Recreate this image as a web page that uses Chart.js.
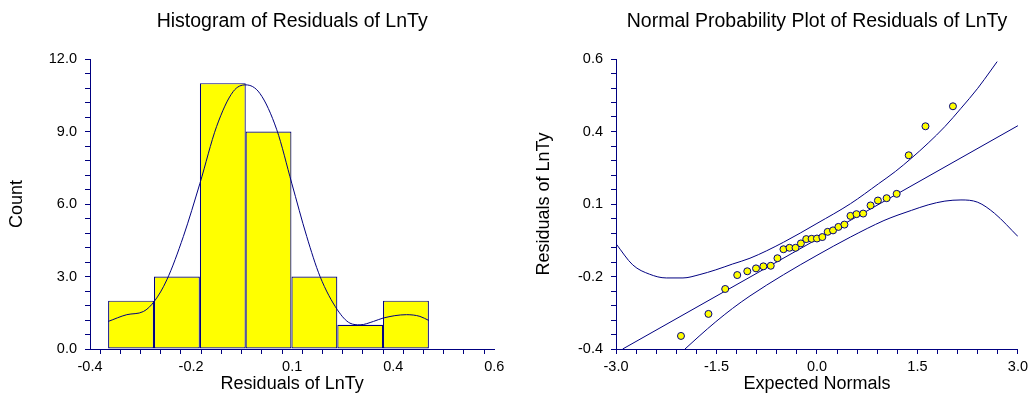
<!DOCTYPE html>
<html>
<head>
<meta charset="utf-8">
<script src="https://cdn.jsdelivr.net/npm/chart.js@4/dist/chart.umd.min.js"></script>
<style>
  html, body { margin: 0; padding: 0; background: #fff; }
  #wrap { position: relative; width: 1032px; height: 397px; }
  #wrap canvas { position: absolute; top: 0; }
  #histChart { left: 0; }
  #probChart { left: 516px; }
</style>
</head>
<body>
<div id="wrap">
  <canvas id="histChart" width="516" height="397"></canvas>
  <canvas id="probChart" width="516" height="397"></canvas>
</div>
<script>
// Histogram of residuals
const binCenters = [-0.2985, -0.185, -0.0715, 0.0415, 0.155, 0.2685, 0.3815];
const binCounts = [2, 3, 11, 9, 3, 1, 2];

// density curve drawn over the histogram
const densX = [-0.355, -0.309, -0.268, -0.241, -0.210, -0.169, -0.128, -0.087, -0.046, -0.015, 0.020, 0.062, 0.099, 0.136, 0.169, 0.212, 0.243, 0.268, 0.301, 0.325, 0.383, 0.416, 0.438];
const densY = [1.14, 1.42, 1.55, 1.97, 2.86, 4.66, 6.86, 9.20, 10.65, 10.93, 10.58, 9.07, 6.86, 4.66, 3.0, 1.62, 1.07, 1.0, 1.14, 1.28, 1.42, 1.35, 1.18];

// Normal probability plot
const normX = [-2.03, -1.62, -1.37, -1.19, -1.04, -0.91, -0.80, -0.69, -0.59, -0.50, -0.41, -0.32, -0.24, -0.16, -0.08, 0.0, 0.08, 0.16, 0.24, 0.32, 0.41, 0.50, 0.59, 0.69, 0.80, 0.91, 1.04, 1.19, 1.37, 1.62, 2.03];
const residY = [-0.355, -0.279, -0.193, -0.145, -0.132, -0.122, -0.115, -0.113, -0.087, -0.056, -0.051, -0.051, -0.036, -0.021, -0.020, -0.019, -0.014, 0.004, 0.009, 0.021, 0.029, 0.059, 0.065, 0.067, 0.095, 0.112, 0.120, 0.135, 0.268, 0.368, 0.437];

const fitX = [-2.90, 3.0];
const fitY = [-0.40, 0.37];

const upperX = [-3.0, -2.75, -2.5, -2.25, -2.0, -1.76, -1.51, -1.26, -1.0, -0.5, 0.0, 0.5, 0.92, 1.17, 1.41, 1.66, 1.91, 2.15, 2.40, 2.60, 2.69];
const upperY = [-0.037, -0.110, -0.142, -0.155, -0.155, -0.144, -0.127, -0.107, -0.087, -0.032, 0.033, 0.101, 0.170, 0.212, 0.258, 0.310, 0.367, 0.430, 0.499, 0.562, 0.591];

const lowerX = [-1.97, -1.76, -1.51, -1.26, -1.0, -0.5, 0.0, 0.5, 1.0, 1.21, 1.41, 1.66, 1.91, 2.15, 2.40, 2.65, 3.0];
const lowerY = [-0.400, -0.356, -0.306, -0.260, -0.217, -0.144, -0.077, -0.014, 0.043, 0.062, 0.078, 0.097, 0.110, 0.114, 0.106, 0.068, -0.012];

// tick labels (major ticks, 4 minor ticks between)
const histXLabels = ['-0.4', '-0.2', '0.1', '0.4', '0.6'];
const histYLabels = ['0.0', '3.0', '6.0', '9.0', '12.0'];
const probXLabels = ['-3.0', '-1.5', '0.0', '1.5', '3.0'];
const probYLabels = ['-0.4', '-0.2', '0.1', '0.4', '0.6'];

const NAVY = '#000080';
const FONT = '"Liberation Sans", Arial, sans-serif';

const pts = (xs, ys) => xs.map((x, i) => ({ x: x, y: ys[i] }));

// title drawn centred over the plot area
const plotTitle = {
    id: 'plotTitle',
    afterDraw(chart, args, opts) {
        const { ctx, chartArea } = chart;
        ctx.save();
        ctx.font = '19.5px ' + FONT;
        ctx.fillStyle = '#000';
        ctx.textAlign = 'center';
        ctx.textBaseline = 'middle';
        ctx.fillText(opts.text, (chartArea.left + chartArea.right) / 2, 22);
        ctx.restore();
    }
};

function axis(min, max, labels, titleText, isX, size) {
    const steps = (labels.length - 1) * 5;
    return {
        type: 'linear',
        min: min,
        max: max,
        offset: false,
        afterBuildTicks: (scale) => {
            const t = [];
            for (let i = 0; i <= steps; i++) t.push({ value: min + (max - min) * i / steps });
            scale.ticks = t;
        },
        afterFit: (scale) => {
            if (isX) scale.height = size; else scale.width = size;
        },
        grid: { drawOnChartArea: false, drawTicks: true, tickLength: 5, color: NAVY, tickColor: NAVY, lineWidth: 1 },
        border: { display: true, color: NAVY, width: 1 },
        ticks: {
            autoSkip: false,
            maxRotation: 0,
            padding: isX ? 4 : 8,
            color: '#000',
            font: { family: FONT, size: 14.5 },
            callback: (v, i) => (i % 5 === 0 ? labels[i / 5] : '')
        },
        title: {
            display: true,
            text: titleText,
            color: '#000',
            padding: 0,
            font: { family: FONT, size: 18 }
        }
    };
}

// Chart.js sizes bars from the smallest tick gap, so widen them to one full bin
const histMinorStep = (0.6 - (-0.4)) / ((histXLabels.length - 1) * 5);
const binWidth = binCenters[1] - binCenters[0];

new Chart(document.getElementById('histChart'), {
    type: 'bar',
    data: {
        datasets: [
            {
                type: 'line',
                data: pts(densX, densY),
                borderColor: NAVY,
                borderWidth: 1,
                pointRadius: 0,
                fill: false,
                cubicInterpolationMode: 'monotone'
            },
            {
                type: 'bar',
                data: pts(binCenters, binCounts),
                backgroundColor: '#ffff00',
                borderColor: NAVY,
                borderWidth: 1.2,
                borderSkipped: false,
                barPercentage: 1,
                categoryPercentage: binWidth / histMinorStep
            }
        ]
    },
    options: {
        responsive: false,
        animation: false,
        layout: { padding: { top: 59, left: 6.7, right: 21.7, bottom: 2.2 } },
        plugins: {
            legend: { display: false },
            tooltip: { enabled: false },
            plotTitle: { text: 'Histogram of Residuals of LnTy' }
        },
        scales: {
            x: axis(-0.4, 0.6, histXLabels, 'Residuals of LnTy', true, 45.8),
            y: axis(0, 12, histYLabels, 'Count', false, 83.3)
        }
    },
    plugins: [plotTitle]
});

new Chart(document.getElementById('probChart'), {
    type: 'scatter',
    data: {
        datasets: [
            {
                data: pts(normX, residY),
                backgroundColor: '#ffff00',
                borderColor: NAVY,
                borderWidth: 1,
                pointRadius: 3.5
            },
            {
                type: 'line',
                data: pts(fitX, fitY),
                borderColor: NAVY,
                borderWidth: 1,
                pointRadius: 0,
                fill: false
            },
            {
                type: 'line',
                data: pts(upperX, upperY),
                borderColor: NAVY,
                borderWidth: 1,
                pointRadius: 0,
                fill: false,
                cubicInterpolationMode: 'monotone'
            },
            {
                type: 'line',
                data: pts(lowerX, lowerY),
                borderColor: NAVY,
                borderWidth: 1,
                pointRadius: 0,
                fill: false,
                cubicInterpolationMode: 'monotone'
            }
        ]
    },
    options: {
        responsive: false,
        animation: false,
        layout: { padding: { top: 59, left: 17.2, right: 12, bottom: 2.2 } },
        plugins: {
            legend: { display: false },
            tooltip: { enabled: false },
            plotTitle: { text: 'Normal Probability Plot of Residuals of LnTy' }
        },
        scales: {
            x: axis(-3, 3, probXLabels, 'Expected Normals', true, 45.8),
            y: axis(-0.4, 0.6, probYLabels, 'Residuals of LnTy', false, 82.8)
        }
    },
    plugins: [plotTitle]
});
</script>
</body>
</html>
